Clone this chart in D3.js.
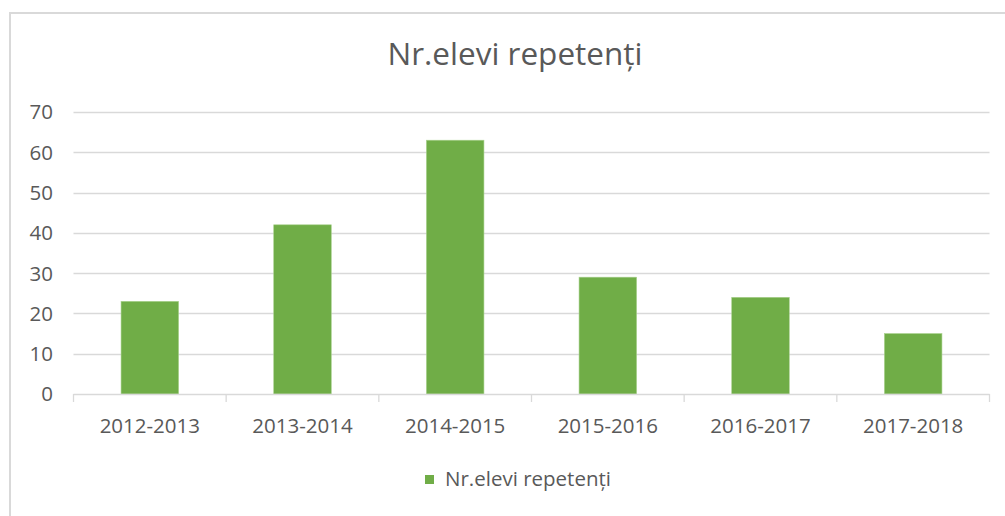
<!DOCTYPE html>
<html>
<head>
<meta charset="utf-8">
<script src="https://cdn.jsdelivr.net/npm/d3@7"></script>
<style>
  html, body { margin: 0; padding: 0; background: #fff; }
  svg { display: block; }
  text { font-family: "Open Sans", sans-serif; fill: #595959; }
</style>
</head>
<body>
<svg id="chart" width="1005" height="516"></svg>
<script>
const title = "Nr.elevi repetenți";
const seriesName = "Nr.elevi repetenți";
const categories = ["2012-2013", "2013-2014", "2014-2015", "2015-2016", "2016-2017", "2017-2018"];
const values = [23, 42, 63, 29, 24, 15];
const yTicks = [0, 10, 20, 30, 40, 50, 60, 70];

const svg = d3.select("#chart");
const plot = { left: 73.5, right: 989.5, top: 112, bottom: 394 };
const green = "#70ad47", grid = "#d9d9d9";

// chart frame
svg.append("rect").attr("x", 10).attr("y", 13).attr("width", 1030).attr("height", 560)
  .attr("fill", "#fff").attr("stroke", "#d9d9d9").attr("stroke-width", 2);

const x = d3.scaleBand().domain(categories).range([plot.left, plot.right]).paddingInner(0.623).paddingOuter(0.3115);
const xOuter = d3.scaleBand().domain(categories).range([plot.left, plot.right]);
const y = d3.scaleLinear().domain([0, 70]).range([plot.bottom, plot.top]);

// gridlines
svg.append("g").selectAll("line").data(yTicks.filter(d => d > 0)).join("line")
  .attr("x1", plot.left).attr("x2", plot.right)
  .attr("y1", d => Math.round(y(d)) + 0.5).attr("y2", d => Math.round(y(d)) + 0.5)
  .attr("stroke", grid).attr("stroke-width", 1.3);

// y labels
svg.append("g").selectAll("text").data(yTicks).join("text")
  .attr("x", 53).attr("y", d => y(d)).attr("dy", "0.36em")
  .attr("text-anchor", "end").attr("font-size", 20.5).text(d => d);

// bars
svg.append("g").selectAll("rect").data(values).join("rect")
  .attr("x", (d, i) => x(categories[i])).attr("width", x.bandwidth())
  .attr("y", d => y(d)).attr("height", d => y(0) - y(d))
  .attr("fill", green).attr("stroke", "#a9d18e").attr("stroke-width", 0.6);

// x axis line and ticks
const xAxis = svg.append("g");
xAxis.append("line").attr("x1", plot.left).attr("x2", plot.right)
  .attr("y1", plot.bottom + 0.5).attr("y2", plot.bottom + 0.5).attr("stroke", grid).attr("stroke-width", 1.3);
const tickPos = categories.map(c => xOuter(c)).concat([plot.right]);
xAxis.selectAll("line.tick").data(tickPos).join("line").attr("class", "tick")
  .attr("x1", d => d).attr("x2", d => d).attr("y1", plot.bottom).attr("y2", plot.bottom + 8)
  .attr("stroke", grid).attr("stroke-width", 1.3);
xAxis.selectAll("text").data(categories).join("text")
  .attr("x", d => xOuter(d) + xOuter.bandwidth() / 2).attr("y", 433)
  .attr("text-anchor", "middle").attr("font-size", 20.5).text(d => d);

// title
svg.append("text").attr("x", 515).attr("y", 65).attr("text-anchor", "middle")
  .attr("font-size", 31.5).text(title);

// legend
const leg = svg.append("g");
leg.append("rect").attr("x", 425).attr("y", 475).attr("width", 9).attr("height", 9).attr("fill", green);
leg.append("text").attr("x", 445).attr("y", 486).attr("font-size", 20.5).text(seriesName);
</script>
</body>
</html>
